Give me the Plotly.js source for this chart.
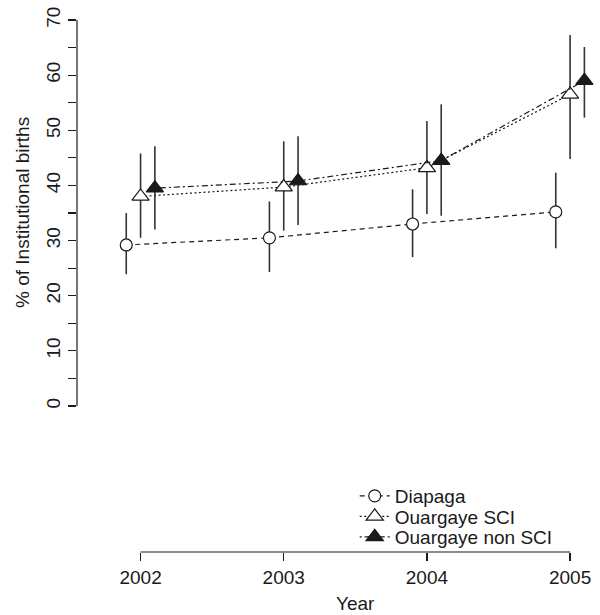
<!DOCTYPE html>
<html>
<head>
<meta charset="utf-8">
<script src="https://cdn.plot.ly/plotly-3.0.1.min.js"></script>
<style>html,body{margin:0;padding:0;background:#fff;}#chart{width:600px;height:615px;}</style>
</head>
<body>
<div id="chart"></div>
<script>
// ---- data ----
const years = [2002, 2003, 2004, 2005];
const seriesNames = ["Diapaga", "Ouargaye SCI", "Ouargaye non SCI"];
const xOffsets = [-0.1, 0, 0.1];

const diapagaVal = [29.2, 30.5, 33.0, 35.2];
const diapagaLo  = [23.9, 24.3, 27.0, 28.6];
const diapagaHi  = [35.0, 37.1, 39.3, 42.3];

const sciVal = [38.0, 39.7, 43.2, 56.5];
const sciLo  = [30.5, 31.8, 34.8, 44.8];
const sciHi  = [45.8, 48.0, 51.7, 67.3];

const nonSciVal = [39.5, 40.8, 44.5, 59.0];
const nonSciLo  = [32.0, 32.8, 34.5, 52.3];
const nonSciHi  = [47.1, 48.9, 54.7, 65.1];

const yTickVals = [0, 5, 10, 15, 20, 25, 30, 35, 40, 45, 50, 55, 60, 65, 70];
const yTickText = ["0", "", "10", "", "20", "", "30", "", "40", "", "50", "", "60", "", "70"];
const xTickText = ["2002", "2003", "2004", "2005"];

// ---- styling ----
const FONT = "Liberation Sans, Arial, Helvetica, sans-serif";
const INK = "#1a1a1a";
const dashes = ["5px,4px", "2px,2.5px", "2px,3px,6px,3px"];
const symbols = ["circle", "triangle-up", "triangle-up"];
const fills = ["white", "white", INK];
const sizes = [12, 15, 15];
const values = [diapagaVal, sciVal, nonSciVal];
const los = [diapagaLo, sciLo, nonSciLo];
const his = [diapagaHi, sciHi, nonSciHi];
const legendIds = ["legend", "legend2", "legend3"];

const traces = values.map((vals, i) => ({
  type: "scatter",
  mode: "lines+markers",
  name: seriesNames[i],
  legend: legendIds[i],
  x: years.map(y => y + xOffsets[i]),
  y: vals,
  line: {color: INK, width: 1.2, dash: dashes[i]},
  marker: {symbol: symbols[i], size: sizes[i], color: fills[i], line: {color: INK, width: 1.2}},
  error_y: {
    type: "data", symmetric: false,
    array: his[i].map((h, k) => h - vals[k]),
    arrayminus: los[i].map((l, k) => vals[k] - l),
    width: 0, thickness: 1.6, color: "#333"
  }
}));

// plot area: left 77px, right 600px, top 5px, bottom 552px
const legendRowsY = [496, 516.5, 537];
const plotTop = 5, plotBottom = 552;
function paperY(py) { return (plotBottom - py) / (plotBottom - plotTop); }

const legendBase = {
  x: 0.531, xanchor: "left", yanchor: "middle",
  bgcolor: "rgba(0,0,0,0)", borderwidth: 0,
  font: {family: FONT, size: 19, color: INK},
  itemwidth: 30
};

const layout = {
  width: 600, height: 615,
  margin: {l: 77, r: 0, t: plotTop, b: 615 - plotBottom, pad: 0},
  paper_bgcolor: "#fff", plot_bgcolor: "#fff",
  font: {family: FONT, size: 19, color: INK},
  showlegend: true,
  legend: Object.assign({}, legendBase, {y: paperY(legendRowsY[0])}),
  legend2: Object.assign({}, legendBase, {y: paperY(legendRowsY[1])}),
  legend3: Object.assign({}, legendBase, {y: paperY(legendRowsY[2])}),
  xaxis: {
    range: [2001.556, 2005.209],
    tickmode: "array", tickvals: years, ticktext: xTickText,
    ticks: "outside", ticklen: 8, tickwidth: 1.2, tickcolor: INK,
    showline: false, showgrid: false, zeroline: false,
    tickfont: {family: FONT, size: 19, color: INK}
  },
  yaxis: {
    range: [-26.48, 72.72],
    tickmode: "array", tickvals: yTickVals, ticktext: yTickText,
    tickangle: -90,
    ticks: "outside", ticklen: 8, tickwidth: 1.2, tickcolor: INK,
    showline: false, showgrid: false, zeroline: false,
    tickfont: {family: FONT, size: 19, color: INK}
  },
  shapes: [
    {type: "line", xref: "paper", yref: "y", x0: 0, x1: 0, y0: 0, y1: 70, line: {color: INK, width: 1.2}},
    {type: "line", xref: "x", yref: "paper", x0: 2002, x1: 2005, y0: 0, y1: 0, line: {color: INK, width: 1.2}}
  ],
  annotations: [
    {text: "Year", xref: "x", yref: "paper", x: 2003.5, y: paperY(603), showarrow: false,
     xanchor: "center", yanchor: "middle", font: {family: FONT, size: 19, color: INK}},
    {text: "% of Institutional births", xref: "paper", yref: "y", x: (23 - 77) / 523, y: 35, showarrow: false,
     textangle: -90, xanchor: "center", yanchor: "middle", font: {family: FONT, size: 19, color: INK}}
  ]
};

Plotly.newPlot("chart", traces, layout, {displayModeBar: false, staticPlot: true});
</script>
</body>
</html>
